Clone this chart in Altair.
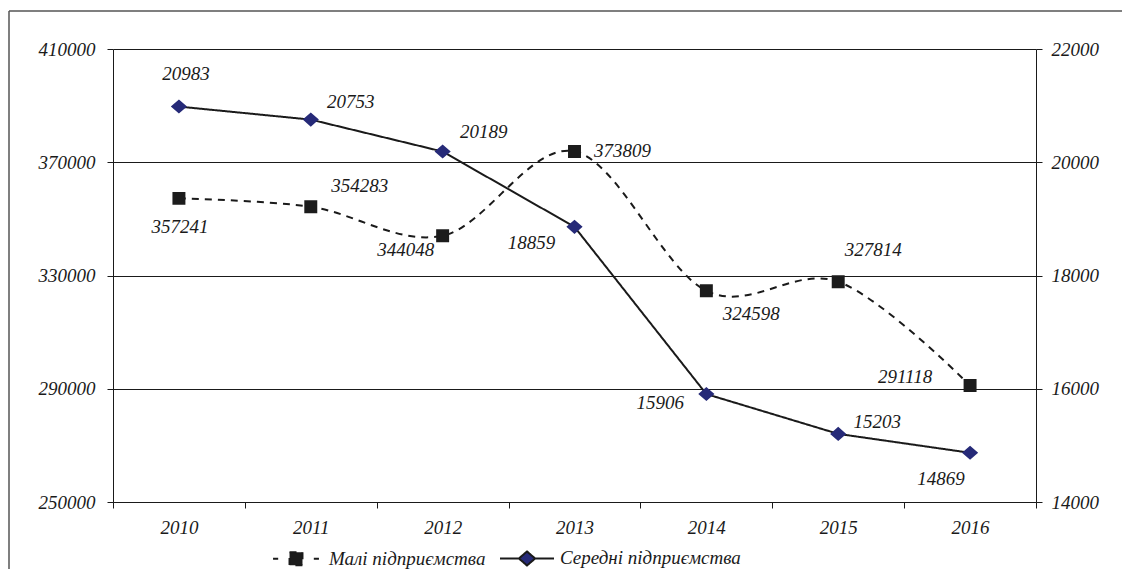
import altair as alt
import pandas as pd

years = ["2010", "2011", "2012", "2013", "2014", "2015", "2016"]
small_values = [357241, 354283, 344048, 373809, 324598, 327814, 291118]
medium_values = [20983, 20753, 20189, 18859, 15906, 15203, 14869]
SMALL = "Малі підприємства"
MEDIUM = "Середні підприємства"
series_names = [SMALL, MEDIUM]
left_ticks = [250000, 290000, 330000, 370000, 410000]
right_ticks = [14000, 16000, 18000, 20000, 22000]

df_small = pd.DataFrame({"year": years, "value": small_values, "series": SMALL})
df_med = pd.DataFrame({"year": years, "value": medium_values, "series": MEDIUM})

FONT = "Liberation Serif"
INK = "#1a1a1a"
NAVY = "#262a78"

small_off = {"2010": (1, 29), "2011": (49, -21), "2012": (-37, 14), "2013": (48, 0),
             "2014": (45, 23), "2015": (35, -32), "2016": (-65, -9)}
med_off = {"2010": (7, -33), "2011": (40, -18), "2012": (41, -20), "2013": (-43, 16),
           "2014": (-46, 9), "2015": (39, -12), "2016": (-29, 26)}

path_small = ("M-0.85,0L-0.66,0M0.66,0L0.85,0"
              "M-0.24,-0.24L0.24,-0.24L0.24,0.24L-0.24,0.24Z")
path_med = ("M-1,0L-0.3,0M0.3,0L1,0"
            "M0,-0.26L0.3,0L0,0.26L-0.3,0Z")
SYM = 2916

leg = alt.Legend(title=None, orient="none", legendX=155, legendY=481,
                 direction="horizontal", symbolSize=SYM,
                 symbolStrokeColor=INK, symbolStrokeWidth=2,
                 labelFont=FONT, labelFontStyle="italic", labelFontSize=19,
                 labelColor=INK, columnPadding=10, labelOffset=5, padding=0,
                 labelLimit=400)

x_axis = alt.Axis(title=None, tickBand="extent", labelAngle=0, tickSize=6,
                  labelPadding=10, grid=False)
x_enc = alt.X("year:O", sort=years,
              scale=alt.Scale(type="band", paddingInner=0, paddingOuter=0),
              bandPosition=0.5, axis=x_axis)

left_axis = alt.Axis(title=None, orient="left", values=left_ticks, format="d",
                     grid=True, gridColor=INK, gridWidth=1, tickSize=6,
                     labelPadding=12, labelFontStyle="italic")
right_axis = alt.Axis(title=None, orient="right", values=right_ticks, format="d",
                      grid=False, tickSize=6, labelPadding=9, labelFontStyle="italic")

y_left = alt.Y("value:Q", scale=alt.Scale(domain=[250000, 410000], nice=False, zero=False),
               axis=left_axis)
y_right = alt.Y("value:Q", scale=alt.Scale(domain=[14000, 22000], nice=False, zero=False),
                axis=right_axis)

dash_enc = alt.StrokeDash("series:N", scale=alt.Scale(domain=series_names, range=[[7, 6], [1, 0]]), legend=leg)
stroke_enc = alt.Stroke("series:N", scale=alt.Scale(domain=series_names, range=[INK, INK]), legend=leg)
fill_enc = alt.Fill("series:N", scale=alt.Scale(domain=series_names, range=["#1c1c1c", NAVY]), legend=leg)
shape_enc = alt.Shape("series:N", scale=alt.Scale(domain=series_names, range=[path_small, path_med]), legend=leg)


def group(df, y_enc, interp, offsets):
    base = alt.Chart(df)
    line = base.mark_line(interpolate=interp, strokeWidth=2).encode(
        x=x_enc, y=y_enc, strokeDash=dash_enc, stroke=stroke_enc)
    pts = base.mark_point(filled=True, opacity=1).encode(
        x=x_enc, y=y_enc, fill=fill_enc, shape=shape_enc, size=alt.value(SYM))
    layers = [line, pts]
    for yr in years:
        dx, dy = offsets[yr]
        layers.append(
            base.transform_filter(alt.datum.year == yr).mark_text(
                font=FONT, fontStyle="italic", fontSize=19, color=INK,
                align="center", baseline="middle", dx=dx, dy=dy
            ).encode(x=x_enc, y=y_enc, text=alt.Text("value:Q", format="d"))
        )
    return alt.layer(*layers)


left = group(df_small, y_left, "cardinal", small_off)
right = group(df_med, y_right, "linear", med_off)

# outer frame (top and left edges), kept inside the drawing area
frame_data = alt.Data(values=[{}])
frame_top = alt.Chart(frame_data).mark_rule(stroke="#555555", strokeWidth=1.5).encode(
    x=alt.value(-104), x2=alt.value(1009), y=alt.value(-38))
frame_left = alt.Chart(frame_data).mark_rule(stroke="#555555", strokeWidth=1.5).encode(
    x=alt.value(-104), y=alt.value(-38), y2=alt.value(520))

chart = alt.layer(frame_top, frame_left, left, right).resolve_scale(y="independent").properties(
    width=923, height=453,
    autosize=alt.AutoSizeParams(type="none"),
    padding={"left": 105, "top": 41, "right": 87, "bottom": 68},
    background="white",
).configure_view(stroke=None).configure_axis(
    labelFont=FONT, labelFontStyle="italic", labelFontSize=19, labelColor=INK,
    domainColor=INK, tickColor=INK, titleFont=FONT,
).configure_text(font=FONT).configure_legend(labelFont=FONT)

chart.save("out.html", embed_options={"renderer": "svg", "actions": False})
